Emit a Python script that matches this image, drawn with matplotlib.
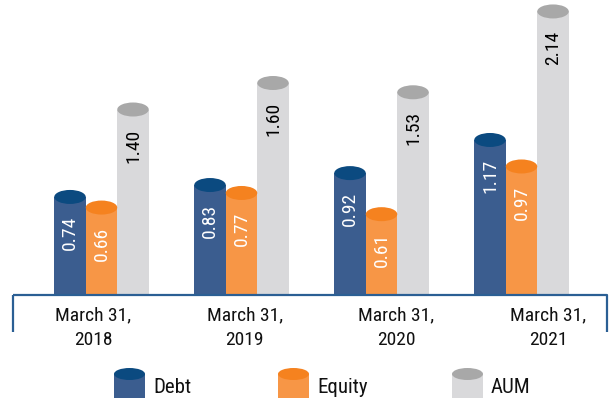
import numpy as np
import matplotlib
matplotlib.use("Agg")
import matplotlib.pyplot as plt
from matplotlib.patches import Ellipse, Rectangle
from matplotlib import font_manager

# data
years = ["March 31,\n2018", "March 31,\n2019", "March 31,\n2020", "March 31,\n2021"]
series = ["Debt", "Equity", "AUM"]
debt = [0.74, 0.83, 0.92, 1.17]
equity = [0.66, 0.77, 0.61, 0.97]
aum = [1.40, 1.60, 1.53, 2.14]

body_colors = ["#3b5d8f", "#f79646", "#d9d9db"]
top_colors = ["#0b4a80", "#f5821f", "#a8a8a8"]
text_colors = ["white", "white", "black"]

names = {f.name for f in font_manager.fontManager.ttflist}
for fam in ["Roboto Condensed", "Archivo Narrow", "DejaVu Sans"]:
    if fam in names:
        break
plt.rcParams["font.family"] = [fam, "DejaVu Sans"]

W, H = 610, 402
fig = plt.figure(figsize=(W / 100, H / 100), dpi=100)

# main axes: baseline at y=296 px
ax = fig.add_axes([12 / W, (H - 296) / H, 596 / W, 296 / H])
px_x = 140.0          # pixels per group
px_y = 132.5          # pixels per unit value
x0 = 89.5 / px_x
ax.set_xlim(-x0, 596 / px_x - x0)
ax.set_ylim(0, 296 / px_y)
ax.axis("off")

bw = 31.5 / px_x
eh = 14 / px_y
x = np.arange(len(years))
for k, vals in enumerate([debt, equity, aum]):
    xs = x + (k - 1) * bw
    ax.bar(xs, vals, width=bw, color=body_colors[k], linewidth=0, zorder=2)
    for xi, v in zip(xs, vals):
        ax.add_patch(Ellipse((xi, v), bw, eh, facecolor=top_colors[k],
                             edgecolor="none", zorder=3))
        ax.text(xi, v - 18 / px_y, "%.2f" % v, rotation=90, ha="center",
                va="top", color=text_colors[k], fontsize=14, zorder=4)

# overlay in pixel coordinates for frame and legend
lax = fig.add_axes([0, 0, 1, 1])
lax.set_xlim(0, W)
lax.set_ylim(H, 0)
lax.axis("off")
lax.patch.set_alpha(0)
frame = "#2b5f94"
lax.plot([13, 607, 607], [296, 296, 333], color=frame, lw=1.6,
         solid_capstyle="butt")
lax.plot([13, 13], [296, 333], color=frame, lw=1.6, solid_capstyle="butt")

for i, lab in enumerate(years):
    lax.text(93 + i * 151.7, 328, lab, ha="center", va="center",
             fontsize=14, linespacing=1.45, color="#111111")

leg_x = [114, 278, 452]
for k, name in enumerate(series):
    lx = leg_x[k]
    lax.add_patch(Rectangle((lx, 375), 31, 24, facecolor=body_colors[k],
                            edgecolor="none"))
    lax.add_patch(Ellipse((lx + 15.5, 375), 31, 12, facecolor=top_colors[k],
                          edgecolor="none"))
    lax.text(lx + 39, 388, name, ha="left", va="center", fontsize=15,
             color="#111111")

fig.savefig("out.png", dpi=100)
